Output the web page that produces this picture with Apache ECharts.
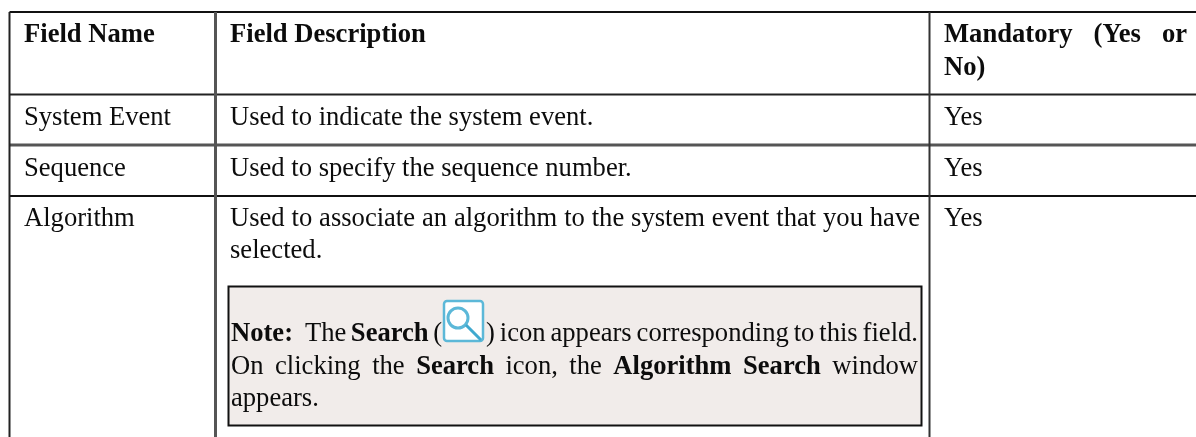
<!DOCTYPE html>
<html>
<head>
<meta charset="utf-8">
<style>
  html, body { margin: 0; padding: 0; background: #fff; overflow: hidden; }
  #chart { width: 1196px; height: 437px; }
</style>
<script src="https://cdn.jsdelivr.net/npm/echarts@6/dist/echarts.min.js"></script>
</head>
<body>
<div id="chart"></div>
<script>
// text of the table, one array per cell; **x** marks bold words
const headerCells = ["Field Name", "Field Description"]
const mandatoryHeader = ["Mandatory (Yes or", "No)"]
const fieldNames = ["System Event", "Sequence", "Algorithm"]
const fieldDescriptions = ["Used to indicate the system event.", "Used to specify the sequence number."]
const algorithmLines = ["Used to associate an algorithm to the system event that you have", "selected."]
const mandatoryValues = ["Yes", "Yes", "Yes"]
const noteLabel = "Note:"
const noteLine1Before = ["The", "**Search**", "("]
const noteLine1After = [")", "icon", "appears", "corresponding", "to", "this", "field."]
const noteLine2 = ["On", "clicking", "the", "**Search**", "icon,", "the", "**Algorithm**", "**Search**", "window"]
const noteLine3 = "appears."

const FONT = '"Liberation Serif", serif'
const SIZE = 26.6
const INK = "#0c0c0c"
const BASELINE_SHIFT = 21.5 // text is placed by its top, y values below are baselines
const ctx = document.createElement("canvas").getContext("2d")

const colX = [9.5, 215.5, 929.5]
const textX = [24, 230, 944]

const elements = []

const measure = (t, bold) => {
  ctx.font = (bold ? "bold " : "") + SIZE + "px " + FONT
  return ctx.measureText(t).width
}

const putText = (t, x, y, bold) => {
  elements.push({
    type: "text",
    x, y: y - BASELINE_SHIFT,
    style: { text: t, fill: INK, font: (bold ? "bold " : "") + SIZE + "px " + FONT }
  })
}

const putLine = (x1, y1, x2, y2, w, color) => {
  elements.push({
    type: "line",
    shape: { x1, y1, x2, y2 },
    style: { stroke: color, lineWidth: w }
  })
}

// words spread between left and right like justified text
const putWords = (words, left, right, y) => {
  const parsed = words.map(w => {
    const bold = w.startsWith("**")
    const t = w.replace(/\*\*/g, "")
    return { t, bold, w: measure(t, bold) }
  })
  const total = parsed.reduce((s, p) => s + p.w, 0)
  const gap = (right - left - total) / (parsed.length - 1)
  let x = left
  parsed.forEach(p => {
    putText(p.t, x, y, p.bold)
    x += p.w + gap
  })
}

// note box
elements.push({
  type: "rect",
  shape: { x: 228.5, y: 286.5, width: 693, height: 139 },
  style: { fill: "#f1ecea", stroke: "#111", lineWidth: 2 }
})

// table rules
putLine(colX[0], 12, 1196, 12, 2, "#111")
putLine(colX[0], 94.5, 1196, 94.5, 2, "#222")
putLine(colX[0], 145, 1196, 145, 3, "#555")
putLine(colX[0], 196, 1196, 196, 2, "#111")
putLine(colX[0], 12, colX[0], 437, 2, "#222")
putLine(colX[1], 12, colX[1], 437, 3, "#555")
putLine(colX[2], 12, colX[2], 437, 2, "#333")

// header
putText(headerCells[0], textX[0], 43, true)
putText(headerCells[1], textX[1], 43, true)
putWords(mandatoryHeader[0].split(" ").map(w => "**" + w + "**"), textX[2], 1187, 43)
putText(mandatoryHeader[1], textX[2], 76, true)

// body rows
const rowBase = [126, 177, 227]
fieldNames.forEach((n, i) => putText(n, textX[0], rowBase[i], false))
fieldDescriptions.forEach((d, i) => putText(d, textX[1], rowBase[i], false))
mandatoryValues.forEach((v, i) => putText(v, textX[2], rowBase[i], false))
putWords(algorithmLines[0].split(" "), textX[1], 920, rowBase[2])
putText(algorithmLines[1], textX[1], 259, false)

// note text
putText(noteLabel, 231, 342, true)
putWords(noteLine1Before, 305, 442, 342)
putWords(noteLine1After, 486, 918, 342)
putWords(noteLine2, 231, 918, 375)
putText(noteLine3, 231, 407, false)

// search icon
elements.push(
  { type: "rect", shape: { x: 444, y: 301, width: 39, height: 40, r: 3 }, style: { fill: "#fff", stroke: "#5cb8d8", lineWidth: 2.5 } },
  { type: "circle", shape: { cx: 458, cy: 318, r: 10 }, style: { fill: "#fff", stroke: "#5cb8d8", lineWidth: 3 } },
  { type: "line", shape: { x1: 466, y1: 325, x2: 481, y2: 340 }, style: { stroke: "#3fa9cf", lineWidth: 3 } }
)

const myChart = echarts.init(document.getElementById("chart"), null, { renderer: "canvas" })
myChart.setOption({
  animation: false,
  backgroundColor: "#fff",
  graphic: { elements }
})

window.addEventListener("resize", () => {
  myChart.resize()
})
</script>
</body>
</html>
